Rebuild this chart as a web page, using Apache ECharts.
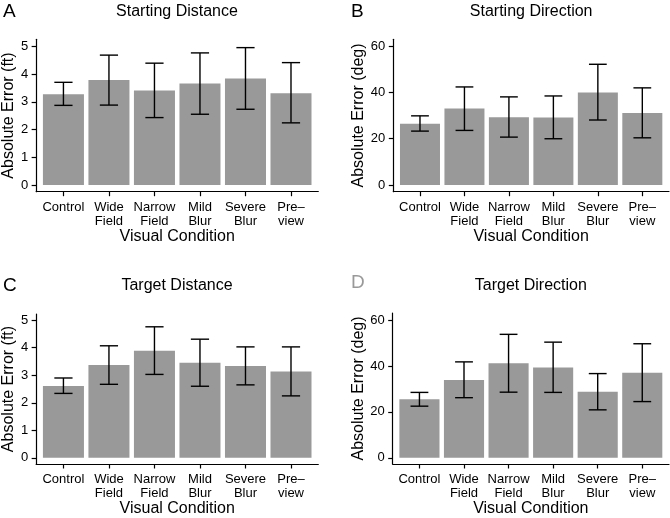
<!DOCTYPE html>
<html>
<head>
<meta charset="utf-8">
<script src="https://cdn.jsdelivr.net/npm/echarts@6/dist/echarts.min.js"></script>
<style>html,body{margin:0;padding:0;background:#fff}#c{width:670px;height:518px}</style>
</head>
<body>
<div id="c"></div>
<script>
const categories = ['Control', 'Wide\nField', 'Narrow\nField', 'Mild\nBlur', 'Severe\nBlur', 'Pre\u2013\nview'];
const xTitle = 'Visual Condition';

const panelLetters = ['A', 'B', 'C', 'D'];
const panelTitles = ['Starting Distance', 'Starting Direction', 'Target Distance', 'Target Direction'];
const yTitles = ['Absolute Error (ft)', 'Absolute Error (deg)', 'Absolute Error (ft)', 'Absolute Error (deg)'];

const ftTicks = [0, 1, 2, 3, 4, 5];
const degTicks = [0, 20, 40, 60];

// A: Starting Distance
const startDistMean  = [3.27, 3.78, 3.41, 3.66, 3.84, 3.31];
const startDistUpper = [3.70, 4.68, 4.39, 4.76, 4.95, 4.41];
const startDistLower = [2.87, 2.88, 2.43, 2.55, 2.73, 2.24];
// B: Starting Direction
const startDirMean  = [26.5, 33.1, 29.3, 29.2, 40.0, 31.1];
const startDirUpper = [29.9, 42.4, 38.1, 38.5, 52.2, 42.0];
const startDirLower = [23.3, 23.6, 20.7, 20.0, 28.1, 20.4];
// C: Target Distance
const targDistMean  = [2.61, 3.37, 3.89, 3.45, 3.34, 3.14];
const targDistUpper = [2.90, 4.07, 4.76, 4.31, 4.03, 4.03];
const targDistLower = [2.34, 2.67, 3.03, 2.60, 2.65, 2.25];
// D: Target Direction
const targDirMean  = [25.5, 33.9, 41.2, 39.4, 28.8, 37.1];
const targDirUpper = [28.5, 41.8, 53.8, 50.4, 36.7, 49.7];
const targDirLower = [22.5, 26.2, 28.6, 28.5, 20.9, 24.5];

const panels = [
  {mean: startDistMean, upper: startDistUpper, lower: startDistLower, ticks: ftTicks, ymin: -0.24, ymax: 5.25,
   grid: {left: 35.7, top: 39.3, width: 282.6, height: 152.4}, nameGap: 17, letterX: 3, letterY: 2, titleY: 11.7, letterColor: '#000'},
  {mean: startDirMean, upper: startDirUpper, lower: startDirLower, ticks: degTicks, ymin: -2.9, ymax: 63.0,
   grid: {left: 393.3, top: 39.3, width: 275.7, height: 152.4}, nameGap: 25, letterX: 351, letterY: 2, titleY: 11.7, letterColor: '#000'},
  {mean: targDistMean, upper: targDistUpper, lower: targDistLower, ticks: ftTicks, ymin: -0.225, ymax: 5.225,
   grid: {left: 35.7, top: 314, width: 282.6, height: 152.3}, nameGap: 17, letterX: 3, letterY: 276, titleY: 285.7, letterColor: '#000'},
  {mean: targDirMean, upper: targDirUpper, lower: targDirLower, ticks: degTicks, ymin: -2.7, ymax: 63.1,
   grid: {left: 392.7, top: 313, width: 276.3, height: 153.3}, nameGap: 25, letterX: 351, letterY: 273, titleY: 286, letterColor: '#999'}
];

const FONT = '"Liberation Sans", Arial, Helvetica, sans-serif';
const XMIN = 0.4, XMAX = 6.6;
const xPositions = categories.map((c, i) => i + 1);

const option = {
  animation: false,
  backgroundColor: '#fff',
  textStyle: {fontFamily: FONT},
  title: [], grid: [], xAxis: [], yAxis: [], series: []
};

panels.forEach((p, k) => {
  option.grid.push(Object.assign({containLabel: false}, p.grid));
  option.title.push({
    text: panelLetters[k], left: p.letterX, top: p.letterY, padding: 0,
    textStyle: {fontFamily: FONT, fontSize: 19, fontWeight: 'normal', color: p.letterColor}
  });
  option.title.push({
    text: panelTitles[k], left: p.grid.left + p.grid.width / 2, top: p.titleY, padding: 0,
    textAlign: 'center', textVerticalAlign: 'middle',
    textStyle: {fontFamily: FONT, fontSize: 16, fontWeight: 'normal', color: '#000'}
  });
  option.xAxis.push({
    type: 'value', gridIndex: k, min: XMIN, max: XMAX,
    name: xTitle, nameLocation: 'middle', nameGap: 37,
    nameTextStyle: {fontFamily: FONT, fontSize: 16, color: '#000'},
    axisLine: {show: true, onZero: false, lineStyle: {color: '#000', width: 1.2}},
    axisTick: {show: true, length: 4.5, customValues: xPositions, lineStyle: {color: '#000', width: 1.2}},
    axisLabel: {show: true, customValues: xPositions, margin: 9, fontFamily: FONT, fontSize: 13, lineHeight: 13.5, color: '#000',
      formatter: v => categories[Math.round(v) - 1]},
    splitLine: {show: false}
  });
  option.yAxis.push({
    type: 'value', gridIndex: k, min: p.ymin, max: p.ymax,
    name: yTitles[k], nameLocation: 'middle', nameGap: p.nameGap,
    nameTextStyle: {fontFamily: FONT, fontSize: 16, color: '#000'},
    axisLine: {show: true, onZero: false, lineStyle: {color: '#000', width: 1.2}},
    axisTick: {show: true, length: 4.5, customValues: p.ticks, lineStyle: {color: '#000', width: 1.2}},
    axisLabel: {show: true, customValues: p.ticks, margin: 8, fontFamily: FONT, fontSize: 13, color: '#000'},
    splitLine: {show: false}
  });
  const bandPx = p.grid.width / (XMAX - XMIN);
  option.series.push({
    type: 'bar', xAxisIndex: k, yAxisIndex: k,
    barWidth: bandPx * 0.9,
    itemStyle: {color: '#999999'},
    data: p.mean.map((v, i) => [xPositions[i], v])
  });
  option.series.push({
    type: 'custom', xAxisIndex: k, yAxisIndex: k,
    encode: {x: 0, y: [1, 2]},
    data: p.mean.map((v, i) => [xPositions[i], p.lower[i], p.upper[i]]),
    renderItem: function (params, api) {
      const x = api.value(0), lo = api.value(1), hi = api.value(2);
      const a = api.coord([x, lo]), b = api.coord([x, hi]);
      const l1 = api.coord([x - 0.2, lo]), r1 = api.coord([x + 0.2, lo]);
      const l2 = api.coord([x - 0.2, hi]), r2 = api.coord([x + 0.2, hi]);
      const st = {stroke: '#000', lineWidth: 1.4};
      return {type: 'group', children: [
        {type: 'line', shape: {x1: a[0], y1: a[1], x2: b[0], y2: b[1]}, style: st},
        {type: 'line', shape: {x1: l1[0], y1: l1[1], x2: r1[0], y2: r1[1]}, style: st},
        {type: 'line', shape: {x1: l2[0], y1: l2[1], x2: r2[0], y2: r2[1]}, style: st}
      ]};
    },
    z: 5
  });
});

const chart = echarts.init(document.getElementById('c'), null, {renderer: 'canvas'});
chart.setOption(option);
</script>
</body>
</html>
